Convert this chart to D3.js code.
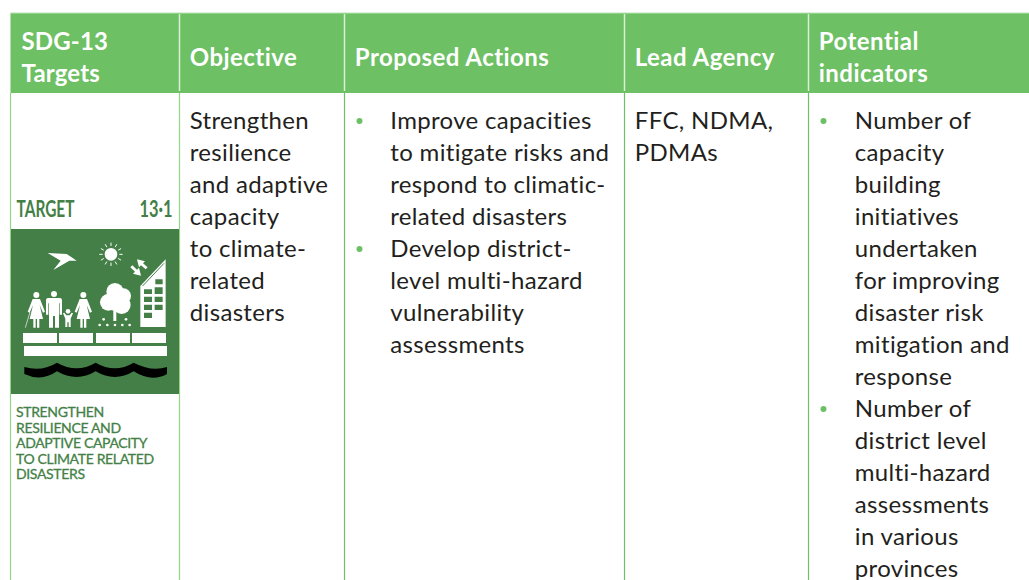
<!DOCTYPE html>
<html>
<head>
<meta charset="utf-8">
<script src="https://cdn.jsdelivr.net/npm/d3@7"></script>
<style>
  html, body { margin: 0; padding: 0; background: #fff; overflow: hidden; }
  text { font-family: Lato, "Open Sans", sans-serif; }
</style>
</head>
<body>
<div id="chart"></div>
<script>
// table content
var columns = ["SDG-13 Targets", "Objective", "Proposed Actions", "Lead Agency", "Potential indicators"];
var headerLines = [["SDG-13", "Targets"], ["Objective"], ["Proposed Actions"], ["Lead Agency"], ["Potential", "indicators"]];
var objectiveLines = ["Strengthen", "resilience", "and adaptive", "capacity", "to climate-", "related", "disasters"];
var actionLines = ["Improve capacities", "to mitigate risks and", "respond to climatic-", "related disasters", "Develop district-", "level multi-hazard", "vulnerability", "assessments"];
var actionBullets = [0, 4];
var agencyLines = ["FFC, NDMA,", "PDMAs"];
var indicatorLines = ["Number of", "capacity", "building", "initiatives", "undertaken", "for improving", "disaster risk", "mitigation and", "response", "Number of", "district level", "multi-hazard", "assessments", "in various", "provinces"];
var indicatorBullets = [0, 9];
var targetLabel = ["TARGET", "13·1"];
var targetCaption = ["STRENGTHEN", "RESILIENCE AND", "ADAPTIVE CAPACITY", "TO CLIMATE RELATED", "DISASTERS"];

var svgWidth = 1029;
var svgHeight = 580;
var green = "#6dc063";
var darkGreen = "#437f46";

var svg = d3.select("#chart").append("svg")
  .attr("width", svgWidth)
  .attr("height", svgHeight)
  .style("display", "block");

// column edges, one more than there are columns
var colEdges = [10.5, 179.5, 344.5, 624.5, 808.5, 1029];
var colLeft = d3.scaleOrdinal().domain(columns).range(colEdges);
var headerTop = 13, headerBottom = 93;

// body text sits on a fixed line pitch
var lineY = d3.scaleLinear().domain([0, 1]).range([129, 161]);

svg.append("rect")
  .attr("x", colEdges[0]).attr("y", headerTop)
  .attr("width", svgWidth - colEdges[0]).attr("height", headerBottom - headerTop)
  .attr("fill", green);
svg.append("line")
  .attr("x1", colEdges[0]).attr("x2", svgWidth)
  .attr("y1", headerTop).attr("y2", headerTop)
  .attr("stroke", "#b9e3b2");

// column rules
svg.selectAll("line.head").data(colEdges.slice(1, 5)).enter().append("line")
  .attr("class", "head")
  .attr("x1", d => d).attr("x2", d => d)
  .attr("y1", headerTop + 1).attr("y2", headerBottom - 2)
  .attr("stroke", "#d9f0d5").attr("stroke-width", 1.5);
svg.selectAll("line.body").data(colEdges.slice(0, 5)).enter().append("line")
  .attr("class", "body")
  .attr("x1", d => d).attr("x2", d => d)
  .attr("y1", headerBottom).attr("y2", svgHeight)
  .attr("stroke", (d, i) => i < 2 ? "#93d489" : green).attr("stroke-width", 1.2);

// header text
columns.forEach(function(c, i) {
  var lines = headerLines[i];
  var t = svg.append("g");
  t.selectAll("text").data(lines).enter().append("text")
    .attr("x", colLeft(c) + (i == 0 ? 11 : 10.3))
    .attr("y", (d, j) => lines.length == 1 ? 66 : 50 + j * 32)
    .attr("fill", "#fff")
    .attr("font-size", 24)
    .attr("font-weight", 700)
    .attr("letter-spacing", i == 0 ? 0.15 : 0.45)
    .text(d => d);
});

function bodyColumn(lines, x) {
  var g = svg.append("g");
  g.selectAll("text").data(lines).enter().append("text")
    .attr("x", x)
    .attr("y", (d, i) => lineY(i))
    .attr("fill", "#231f20")
    .attr("font-size", 24)
    .attr("letter-spacing", 0.33)
    .text(d => d);
}

function bullets(rows, x) {
  svg.append("g").selectAll("circle").data(rows).enter().append("circle")
    .attr("cx", x)
    .attr("cy", d => lineY(d) - 8)
    .attr("r", 3)
    .attr("fill", green);
}

bodyColumn(objectiveLines, colLeft(columns[1]) + 10.3);
bodyColumn(actionLines, colLeft(columns[2]) + 45.8);
bullets(actionBullets, colLeft(columns[2]) + 15);
bodyColumn(agencyLines, colLeft(columns[3]) + 10.3);
bodyColumn(indicatorLines, colLeft(columns[4]) + 46.3);
bullets(indicatorBullets, colLeft(columns[4]) + 15);

// SDG target tile
var tile = svg.append("g");
tile.append("text").attr("x", 16.5).attr("y", 217).attr("fill", darkGreen)
  .attr("font-family", "Liberation Sans Narrow, Liberation Sans")
  .attr("font-size", 23.5).attr("font-weight", 700)
  .attr("textLength", 58).attr("lengthAdjust", "spacingAndGlyphs")
  .text(targetLabel[0]);
tile.append("text").attr("x", 172.5).attr("y", 217).attr("fill", darkGreen)
  .attr("text-anchor", "end")
  .attr("font-family", "Liberation Sans Narrow, Liberation Sans")
  .attr("font-size", 23.5).attr("font-weight", 700)
  .attr("textLength", 33).attr("lengthAdjust", "spacingAndGlyphs")
  .text(targetLabel[1]);
tile.append("rect").attr("x", 11).attr("y", 229).attr("width", 168).attr("height", 165).attr("fill", darkGreen);

tile.append("g").selectAll("text").data(targetCaption).enter().append("text")
  .attr("x", 16)
  .attr("y", (d, i) => 417 + i * 15.6)
  .attr("fill", darkGreen)
  .attr("stroke", darkGreen)
  .attr("stroke-width", 0.3)
  .attr("font-size", 14)
  .attr("letter-spacing", -0.35)
  .text(d => d);

// pictogram, drawn in a 3x working space
var icon = tile.append("g").attr("transform", "translate(10,230) scale(0.3333)");
var white = "#fff";

// bird
icon.append("path").attr("fill", white)
  .attr("d", "M113 69L170 72L187 83L200 92L178 92L130 120L152 92Z");

// sun
icon.append("circle").attr("cx", 303).attr("cy", 73).attr("r", 19).attr("fill", white);
icon.append("g").selectAll("line").data(d3.range(12)).enter().append("line")
  .attr("x1", d => 303 + 25 * Math.cos(d * Math.PI / 6))
  .attr("y1", d => 73 + 25 * Math.sin(d * Math.PI / 6))
  .attr("x2", d => 303 + 35 * Math.cos(d * Math.PI / 6))
  .attr("y2", d => 73 + 35 * Math.sin(d * Math.PI / 6))
  .attr("stroke", white).attr("stroke-width", 3);

// arrows by the roof
icon.append("path").attr("fill", white)
  .attr("d", "M381 88L405 94L399 100L413 112L407 118L393 106L387 112Z");
icon.append("path").attr("fill", white)
  .attr("d", "M393 137L369 131L375 125L361 112L367 106L381 119L387 113Z");

// building with windows
icon.append("path").attr("fill", white).attr("d", "M391 291V168L467 88V291Z");
icon.append("path").attr("fill", "none").attr("stroke", darkGreen).attr("stroke-width", 3)
  .attr("d", "M398 168L462 100");
icon.append("path").attr("fill", darkGreen)
  .attr("d", "M402 178H426V192H402ZM434 172H458V192H434ZM436 148H458V163H436ZM402 200H426V216H402ZM434 200H458V216H434ZM402 224H426V240H402ZM434 224H458V240H434ZM402 248H426V264H402Z");

// people
function person(x, y, dress) {
  var p = icon.append("g").attr("transform", "translate(" + x + "," + y + ")").attr("fill", white);
  p.append("circle").attr("cx", 0).attr("cy", 0).attr("r", 9);
  if (dress) {
    p.append("path").attr("d", "M-11 12H11L26 50L20 53L10 30L20 72H9V98H2V72H-2V98H-9V72H-20L-10 30L-20 53L-26 50Z");
  } else {
    p.append("path").attr("d", "M-18 12H18C22 12 24 15 24 19V62H17V28H15V101H3V66H-3V101H-15V28H-17V62H-24V19C-24 15 -22 12 -18 12Z");
  }
}
person(79, 195, true);
person(132, 192, false);
person(220, 195, true);
icon.append("line").attr("x1", 60).attr("y1", 246).attr("x2", 46).attr("y2", 293)
  .attr("stroke", white).attr("stroke-width", 2);
// child holding hands
icon.append("circle").attr("cx", 174).attr("cy", 244).attr("r", 7).attr("fill", white);
icon.append("path").attr("fill", white)
  .attr("d", "M159 250L163 248L169 256H179L185 248L189 250L182 266V291H176V277H172V291H166V266Z");

// tree and seedlings
[[315, 185, 26], [340, 198, 23], [295, 217, 25], [335, 225, 27], [315, 215, 28]].forEach(function(c) {
  icon.append("circle").attr("cx", c[0]).attr("cy", c[1]).attr("r", c[2]).attr("fill", white);
});
icon.append("rect").attr("x", 310).attr("y", 240).attr("width", 9).attr("height", 33).attr("fill", white);
[[281, 268], [348, 268], [269, 285], [292, 285], [315, 285], [337, 285], [359, 285]].forEach(function(c) {
  icon.append("circle").attr("cx", c[0]).attr("cy", c[1]).attr("r", 4).attr("fill", white);
});

// deck and water
[[39, 102], [147, 102], [258, 102], [366, 102]].forEach(function(c) {
  icon.append("rect").attr("x", c[0]).attr("y", 309).attr("width", c[1]).attr("height", 30).attr("fill", white);
});
icon.append("rect").attr("x", 42).attr("y", 348).attr("width", 429).attr("height", 30).attr("fill", white);
icon.append("path").attr("fill", "#000")
  .attr("d", "M43 411Q95 426 141 398Q200 432 257 398Q315 432 371 398Q425 426 471 411V432Q425 458 371 424Q315 458 257 424Q200 458 141 424Q95 456 43 432Z");
</script>
</body>
</html>
